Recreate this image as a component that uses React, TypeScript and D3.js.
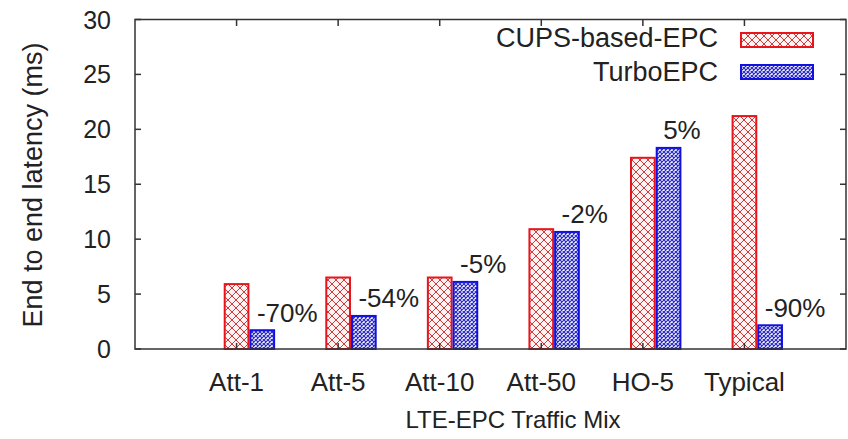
import React from "react";
import * as d3 from "d3";

const categories = ["Att-1", "Att-5", "Att-10", "Att-50", "HO-5", "Typical"];
const cupsValues = [6.0, 6.6, 6.6, 11.0, 17.5, 21.3];
const turboValues = [1.8, 3.1, 6.2, 10.75, 18.4, 2.25];
const pctLabels = ["-70%", "-54%", "-5%", "-2%", "5%", "-90%"];
const yTicks = [0, 5, 10, 15, 20, 25, 30];
const seriesNames = ["CUPS-based-EPC", "TurboEPC"];

const W = 848;
const H = 439;
const FONT = "'Liberation Sans', Arial, Helvetica, sans-serif";

export default function App() {
  const x = d3.scaleLinear().domain([0, 7]).range([135, 846]);
  const y = d3.scaleLinear().domain([0, 30]).range([349, 19.5]);
  const bw = 0.253;
  const sw = 2;
  const textColor = "#222";

  const bar = (cx0: number, v: number, fill: string, stroke: string, key: string) => {
    const x0 = x(cx0);
    const x1 = x(cx0 + bw);
    return (
      <rect
        key={key}
        x={x0 + sw / 2}
        y={y(v) + sw / 2}
        width={x1 - x0 - sw}
        height={y(0) - y(v) - sw / 2}
        fill={fill}
        stroke={stroke}
        strokeWidth={sw}
      />
    );
  };

  return (
    <svg width={W} height={H} style={{ position: "absolute", left: 0, top: 0 }}>
      <defs>
        <pattern id="redHatch" width={8} height={8} patternUnits="userSpaceOnUse">
          <rect width={8} height={8} fill="#fff2f2" />
          <path d="M0,0 L8,8 M8,0 L0,8" stroke="#cc3a3a" strokeWidth={1} />
        </pattern>
        <pattern id="blueHatch" width={4} height={4} patternUnits="userSpaceOnUse">
          <rect width={4} height={4} fill="#f4f4ff" />
          <path d="M0,0 L4,4 M4,0 L0,4" stroke="#2a2ac8" strokeWidth={1.2} />
        </pattern>
      </defs>
      <rect width={W} height={H} fill="#fff" />

      {categories.map((c, i) => (
        <g key={c}>
          {bar(i + 1 - bw / 2, cupsValues[i], "url(#redHatch)", "#e8141c", "r" + i)}
          {bar(i + 1 + bw / 2, turboValues[i], "url(#blueHatch)", "#1010e0", "b" + i)}
        </g>
      ))}

      <rect x={135} y={19.5} width={711} height={329.5} fill="none" stroke="#333" strokeWidth={1.5} />

      {yTicks.map((t) => (
        <g key={t}>
          <line x1={135} x2={141} y1={y(t)} y2={y(t)} stroke="#333" strokeWidth={1.5} />
          <line x1={846} x2={840} y1={y(t)} y2={y(t)} stroke="#333" strokeWidth={1.5} />
          <text x={111} y={y(t) + 9} textAnchor="end" fontFamily={FONT} fontSize={25} fill={textColor}>
            {t}
          </text>
        </g>
      ))}

      {categories.map((c, i) => (
        <g key={"xt" + c}>
          <line x1={x(i + 1)} x2={x(i + 1)} y1={19.5} y2={26} stroke="#333" strokeWidth={1.5} />
          <line x1={x(i + 1)} x2={x(i + 1)} y1={349} y2={343} stroke="#333" strokeWidth={1.5} />
          <text x={x(i + 1)} y={391} textAnchor="middle" fontFamily={FONT} fontSize={26} fill={textColor}>
            {c}
          </text>
        </g>
      ))}

      {pctLabels.map((p, i) => (
        <text
          key={"p" + i}
          x={x(i + 1 + 0.2)}
          y={y(turboValues[i] + 1.5) + 9}
          fontFamily={FONT}
          fontSize={26}
          fill={textColor}
        >
          {p}
        </text>
      ))}

      {seriesNames.map((s, i) => (
        <g key={s}>
          <text x={718} y={47 + i * 34} textAnchor="end" fontFamily={FONT} fontSize={27} fill={textColor}>
            {s}
          </text>
          <rect
            x={741}
            y={33 + i * 32}
            width={72}
            height={14}
            fill={i === 0 ? "url(#redHatch)" : "url(#blueHatch)"}
            stroke={i === 0 ? "#e8141c" : "#1010e0"}
            strokeWidth={2}
          />
        </g>
      ))}

      <text
        transform={`translate(42,185) rotate(-90)`}
        textAnchor="middle"
        fontFamily={FONT}
        fontSize={27}
        fill={textColor}
      >
        End to end latency (ms)
      </text>
      <text x={513} y={428} textAnchor="middle" fontFamily={FONT} fontSize={24} fill={textColor}>
        LTE-EPC Traffic Mix
      </text>
    </svg>
  );
}
